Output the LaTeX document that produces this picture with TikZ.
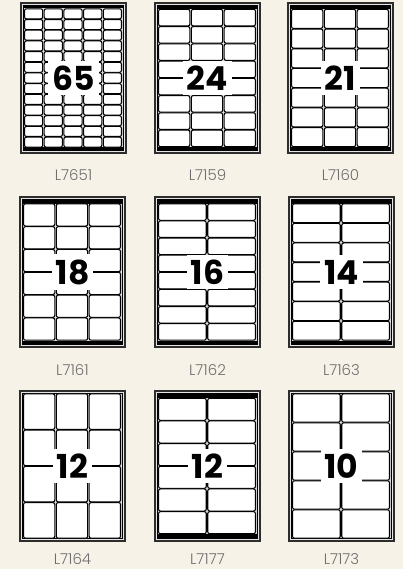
\documentclass[tikz,border=0pt]{standalone}
\usepackage{fontspec}
\newfontfamily\numfont{Poppins}
\newfontfamily\capfont{Poppins Light}
\definecolor{paper}{RGB}{247,242,231}
\definecolor{frame}{RGB}{45,45,45}
\definecolor{gutter}{RGB}{222,222,222}
\definecolor{captext}{RGB}{110,110,110}

\tikzset{
  sheetout/.style={draw=frame, line width=1.1pt, fill=gray!20},
  sheetin/.style={draw=black, line width=1pt, fill=gutter},
  marginbar/.style={fill=black},
  lbl/.style={draw=black, line width=1.05pt, fill=white, rounded corners=2pt},
  count/.style={fill=white, inner xsep=4pt, inner ysep=5pt,
    font=\numfont\bfseries\fontsize{33}{33}\selectfont},
  caption/.style={text=captext, inner sep=0pt, font=\capfont\fontsize{15}{15}\selectfont}
}

% #1,#2 top left of sheet, #3 columns, #4 rows, #5 margin bar, #6 count, #7 code, #8 caption drop
\newcommand{\drawsheet}[8]{%
  \begin{scope}[shift={(#1,#2)}]
    \draw[sheetout] (0,0) rectangle (105,150);
    \draw[sheetin] (2.5,2.5) rectangle (102.5,147.5);
    \ifdim #5pt>0pt
      \fill[marginbar] (2.5,2.5) rectangle (102.5,2.5+#5);
      \fill[marginbar] (2.5,147.5-#5) rectangle (102.5,147.5);
    \fi
    \pgfmathsetmacro{\lw}{(97-(#3-1)*1.5)/#3}
    \pgfmathsetmacro{\lh}{(145-2*#5)/#4}
    \foreach \c in {1,...,#3}{
      \foreach \r in {1,...,#4}{
        \draw[lbl] ({3.5+(\c-1)*(\lw+1.5)},{2.5+#5+(\r-1)*\lh+0.3})
          rectangle ++(\lw,\lh-0.6);
      }
    }
    \node[count] (n#7) at (52.5,75) {#6};
  \end{scope}
  \node[caption] (c#7) at (#1+52.5,#2+#8) {L#7};
}

\begin{document}
\begin{tikzpicture}[x=1pt, y=-1pt]
\fill[paper] (0,0) rectangle (403,569);
\useasboundingbox (0,0) rectangle (403,569);
% first row
\drawsheet{21}{3}{5}{13}{3}{65}{7651}{172}
\drawsheet{155}{3}{3}{8}{3.5}{24}{7159}{172}
\drawsheet{288}{3}{3}{7}{3.5}{21}{7160}{172}
% second row
\drawsheet{20}{197}{3}{6}{4}{18}{7161}{173}
\drawsheet{155}{197}{2}{8}{4}{16}{7162}{173}
\drawsheet{289}{197}{2}{7}{4}{14}{7163}{173}
% third row
\drawsheet{20}{391}{3}{4}{0}{12}{7164}{168}
\drawsheet{155}{391}{2}{6}{4.5}{12}{7177}{168}
\drawsheet{289}{391}{2}{5}{0}{10}{7173}{168}
\end{tikzpicture}
\end{document}
